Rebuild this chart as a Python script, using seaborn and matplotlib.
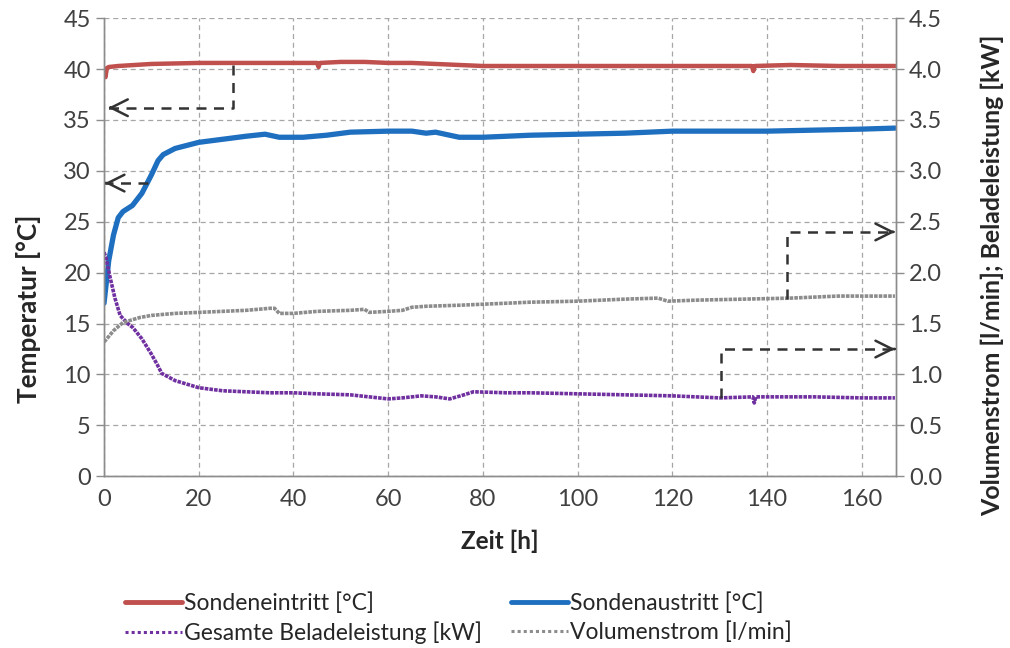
import matplotlib
matplotlib.use("Agg")
import matplotlib.pyplot as plt
import seaborn as sns
import pandas as pd
from matplotlib.lines import Line2D

# ---------------- data ----------------
t_ein = [0, 0.3, 0.6, 1, 3, 10, 20, 30, 40, 45, 45.3, 45.6, 50, 55, 60, 65, 70, 75, 80,
         90, 100, 110, 120, 130, 136.8, 137.1, 137.4, 145, 155, 167]
v_ein = [40.0, 39.2, 40.1, 40.2, 40.3, 40.5, 40.6, 40.6, 40.6, 40.6, 40.2, 40.6, 40.7, 40.7,
         40.6, 40.6, 40.5, 40.4, 40.3, 40.3, 40.3, 40.3, 40.3, 40.3, 40.3, 39.8, 40.3, 40.4,
         40.3, 40.3]

t_aus = [0, 1, 2, 3, 4, 6, 8, 10, 11.4, 12.5, 15, 20, 25, 30, 34, 35, 37, 42, 47, 52, 60,
         65, 68, 70, 72, 75, 80, 90, 100, 110, 120, 130, 140, 150, 160, 167]
v_aus = [17.0, 21.2, 23.7, 25.4, 26.0, 26.6, 27.8, 29.6, 31.0, 31.6, 32.2, 32.8, 33.1, 33.4,
         33.6, 33.5, 33.3, 33.3, 33.5, 33.8, 33.9, 33.9, 33.7, 33.8, 33.6, 33.3, 33.3, 33.5,
         33.6, 33.7, 33.9, 33.9, 33.9, 34.0, 34.1, 34.2]

t_lei = [0, 0.4, 1.3, 2.3, 3.4, 5, 6.1, 8, 10, 11.2, 12.2, 15, 20, 25, 30, 35, 40, 45, 52,
         56, 60, 63, 67, 70, 73, 76, 78, 85, 90, 100, 110, 120, 125, 130, 137, 137.3, 137.6,
         140, 150, 160, 167]
v_lei = [2.2, 2.15, 1.95, 1.75, 1.58, 1.50, 1.46, 1.35, 1.2, 1.1, 1.01, 0.94, 0.87, 0.84,
         0.83, 0.82, 0.82, 0.81, 0.80, 0.78, 0.76, 0.77, 0.79, 0.78, 0.76, 0.80, 0.83, 0.82,
         0.82, 0.81, 0.80, 0.79, 0.78, 0.77, 0.78, 0.72, 0.78, 0.78, 0.78, 0.77, 0.77]

t_vol = [0, 0.4, 2, 4, 7.6, 10, 15, 20, 25, 30, 35, 36, 37, 40, 45, 52, 55, 56, 60, 63, 65,
         68, 75, 80, 90, 100, 110, 117, 119, 125, 135, 145, 155, 167]
v_vol = [1.32, 1.34, 1.43, 1.51, 1.56, 1.58, 1.60, 1.61, 1.62, 1.63, 1.65, 1.65, 1.60, 1.60,
         1.62, 1.63, 1.64, 1.61, 1.62, 1.63, 1.66, 1.67, 1.68, 1.69, 1.71, 1.72, 1.74, 1.75,
         1.72, 1.73, 1.74, 1.75, 1.77, 1.77]

labels = ["Sondeneintritt [°C]", "Sondenaustritt [°C]",
          "Gesamte Beladeleistung [kW]", "Volumenstrom [l/min]"]
x_ticks = [0, 20, 40, 60, 80, 100, 120, 140, 160]
yl_ticks = [0, 5, 10, 15, 20, 25, 30, 35, 40, 45]
yr_ticks = [0.0, 0.5, 1.0, 1.5, 2.0, 2.5, 3.0, 3.5, 4.0, 4.5]

# arrow annotations: (path x, path y) -- final point is arrow tip
arrow_left = [([27.2, 27.2, 0.9], [40.4, 36.2, 36.2]),
              ([9.3, 0.2], [28.8, 28.8])]
arrow_right = [([144.3, 144.3, 167], [1.74, 2.40, 2.40]),
               ([130.2, 130.2, 167], [0.77, 1.25, 1.25])]

# ---------------- style ----------------
sns.set_style("white")
plt.rcParams['font.family'] = ['Lato', 'DejaVu Sans']
FS_TICK = 17
FS_LEG = 16.5

c_red = "#C0504D"
c_blue = "#1F6FC0"
c_purple = "#7030A0"
c_gray = "#8C8C8C"

fig = plt.figure(figsize=(10.10, 6.48), dpi=100)
ax = fig.add_axes([0.103, 0.265, 0.784, 0.707])
ax2 = ax.twinx()

df_ein = pd.DataFrame({"t": t_ein, "v": v_ein})
df_aus = pd.DataFrame({"t": t_aus, "v": v_aus})
df_lei = pd.DataFrame({"t": t_lei, "v": v_lei})
df_vol = pd.DataFrame({"t": t_vol, "v": v_vol})

sns.lineplot(data=df_ein, x="t", y="v", ax=ax, color=c_red, lw=3.2, estimator=None, sort=False)
sns.lineplot(data=df_aus, x="t", y="v", ax=ax, color=c_blue, lw=3.8, estimator=None, sort=False)
sns.lineplot(data=df_lei, x="t", y="v", ax=ax2, color=c_purple, lw=2.6, estimator=None,
             sort=False, linestyle=(0, (1.0, 0.3)))
sns.lineplot(data=df_vol, x="t", y="v", ax=ax2, color=c_gray, lw=2.6, estimator=None,
             sort=False, linestyle=(0, (1.0, 0.3)))

ax.set_xlim(0, 167.2)
ax.set_ylim(0, 45)
ax2.set_ylim(0, 4.5)
ax.set_xticks(x_ticks)
ax.set_yticks(yl_ticks)
ax2.set_yticks(yr_ticks)
ax2.set_yticklabels([f"{v:.1f}" for v in yr_ticks])

ax.grid(True, color="#A6A6A6", linestyle=(0, (4, 3)), lw=0.9)
ax2.grid(False)
ax.set_axisbelow(True)

for a in (ax, ax2):
    a.spines["top"].set_visible(False)
    for s in ["left", "right", "bottom"]:
        a.spines[s].set_color("#8C8C8C")
        a.spines[s].set_linewidth(1.0)
    a.tick_params(axis="both", colors="#8C8C8C", labelcolor="#404040", labelsize=FS_TICK,
                  length=6, width=1.0, direction="out")

ax.set_xlabel("Zeit [h]", fontsize=17.5, fontweight="bold", color="#262626", labelpad=14)
ax.set_ylabel("Temperatur [°C]", fontsize=18.8, fontweight="bold", color="#262626")
ax2.set_ylabel("Volumenstrom [l/min]; Beladeleistung [kW]", fontsize=17.9, fontweight="bold",
               color="#262626", rotation=90)
ax.yaxis.set_label_coords(-0.080, 0.365)
ax2.yaxis.set_label_coords(1.107, 0.439)

# arrows
arrow_kw = dict(arrowstyle="->", color="#333333", lw=1.8, mutation_scale=30)
def draw_arrow(axis, xs, ys):
    axis.plot(xs, ys, color="#333333", lw=1.8, linestyle=(0, (4, 3)), solid_capstyle="butt")
    axis.annotate("", xy=(xs[-1], ys[-1]),
                  xytext=(xs[-1] + (xs[-2] - xs[-1]) * 0.02, ys[-1]),
                  arrowprops=arrow_kw)

for xs, ys in arrow_left:
    draw_arrow(ax, xs, ys)
for xs, ys in arrow_right:
    draw_arrow(ax2, xs, ys)

h_red = Line2D([], [], color=c_red, lw=3.5)
h_blue = Line2D([], [], color=c_blue, lw=3.5)
h_pur = Line2D([], [], color=c_purple, lw=2.2, linestyle=(0, (1, 1)))
h_gray = Line2D([], [], color=c_gray, lw=2.2, linestyle=(0, (1, 1)))
# matplotlib fills legend columns first -> reorder for row-wise appearance
fig.legend([h_red, h_pur, h_blue, h_gray], [labels[0], labels[2], labels[1], labels[3]],
           loc="upper left", bbox_to_anchor=(0.112, 0.103), ncol=2,
           frameon=False, fontsize=FS_LEG, handlelength=2.5, handletextpad=0.1,
           columnspacing=1.25, labelspacing=0.3, borderpad=0.0)

fig.savefig("out.png", dpi=100)
